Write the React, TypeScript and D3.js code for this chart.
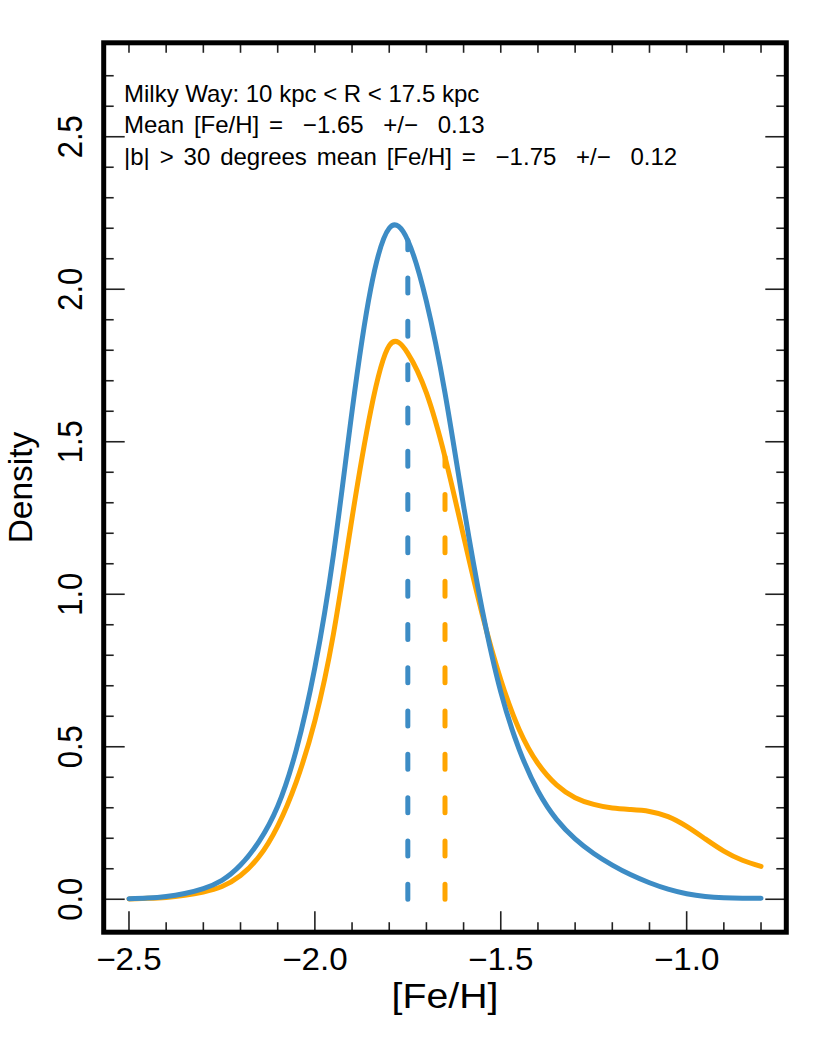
import React, { Component } from 'react';
import * as d3 from 'd3';

// [Fe/H] grid the densities were read at
const fehGrid = [
  -2.5, -2.45, -2.4, -2.35, -2.3, -2.25, -2.2, -2.15, -2.1, -2.05,
  -2.0, -1.95, -1.9, -1.85, -1.8, -1.75, -1.7, -1.65, -1.6, -1.55,
  -1.5, -1.45, -1.4, -1.35, -1.3, -1.25, -1.2, -1.15, -1.1, -1.05,
  -1.0, -0.95, -0.9, -0.85, -0.8,
];

// |b| > 30 degrees sample
const highLatDensity = [
  0.002, 0.004, 0.009, 0.019, 0.035, 0.062, 0.112, 0.19, 0.305, 0.49,
  0.76, 1.13, 1.6, 2.0, 2.2, 2.16, 1.96, 1.66, 1.29, 0.95,
  0.68, 0.49, 0.355, 0.262, 0.198, 0.15, 0.112, 0.08, 0.054, 0.033,
  0.018, 0.009, 0.005, 0.0035, 0.003,
];

// full 10 < R < 17.5 kpc sample
const allDensity = [
  0.001, 0.003, 0.006, 0.013, 0.024, 0.042, 0.078, 0.14, 0.24, 0.385,
  0.585, 0.87, 1.25, 1.6, 1.815, 1.79, 1.66, 1.45, 1.19, 0.935,
  0.72, 0.555, 0.445, 0.375, 0.333, 0.311, 0.299, 0.294, 0.288, 0.271,
  0.239, 0.198, 0.158, 0.128, 0.108,
];

const meanAll = -1.65;
const meanHighLat = -1.75;

const xMajorTicks = [-2.5, -2.0, -1.5, -1.0];
const yMajorTicks = [0, 0.5, 1.0, 1.5, 2.0, 2.5];

const noteLines = [
  'Milky Way: 10 kpc < R < 17.5 kpc',
  'Mean [Fe/H] =  \u22121.65  +/\u2212  0.13',
  '|b| > 30 degrees mean [Fe/H] =  \u22121.75  +/\u2212  0.12',
];

const BLUE = '#3d8cc5';
const ORANGE = '#ffa500';
const FONT = '"Liberation Sans", Arial, Helvetica, sans-serif';

export default class App extends Component {
  svgRef = React.createRef<SVGSVGElement>();

  componentDidMount() {
    this.drawGraph();
  }

  drawGraph() {
    const svg = d3.select(this.svgRef.current);
    svg.selectAll('*').remove();

    const x = d3.scaleLinear().domain([-2.568, -0.732]).range([103.7, 786.3]);
    const y = d3.scaleLinear().domain([-0.108, 2.808]).range([932.2, 42.8]);

    const [x0, x1] = x.range();
    const [y0, y1] = y.range();

    const fmt = (v: number) => d3.format('.1f')(v).replace('-', '\u2212');

    // ticks, all pointing inwards
    const ticks = svg.append('g').attr('stroke', '#222').attr('stroke-width', 1.6);
    const xMinor = d3.range(-25, -7).map(i => i / 10);
    const isXMajor = (v: number) => xMajorTicks.some(t => Math.abs(t - v) < 1e-6);
    xMinor.forEach(v => {
      const len = isXMajor(v) ? 21 : 10;
      ticks.append('line').attr('x1', x(v)).attr('x2', x(v)).attr('y1', y0).attr('y2', y0 - len);
      ticks.append('line').attr('x1', x(v)).attr('x2', x(v)).attr('y1', y1).attr('y2', y1 + 10);
    });
    const yMinor = d3.range(0, 28).map(i => i / 10);
    const isYMajor = (v: number) => yMajorTicks.some(t => Math.abs(t - v) < 1e-6);
    yMinor.forEach(v => {
      const len = isYMajor(v) ? 21 : 10;
      ticks.append('line').attr('x1', x0).attr('x2', x0 + len).attr('y1', y(v)).attr('y2', y(v));
      ticks.append('line').attr('x1', x1).attr('x2', x1 - len).attr('y1', y(v)).attr('y2', y(v));
    });

    // density curves
    const line = (vals: number[]) =>
      d3.line<number>()
        .x((_, i) => x(fehGrid[i]))
        .y(d => y(d))
        .curve(d3.curveNatural)(vals);

    svg.append('path')
      .attr('d', line(allDensity))
      .attr('fill', 'none')
      .attr('stroke', ORANGE)
      .attr('stroke-width', 5)
      .attr('stroke-linecap', 'round')
      .attr('stroke-linejoin', 'round');

    svg.append('path')
      .attr('d', line(highLatDensity))
      .attr('fill', 'none')
      .attr('stroke', BLUE)
      .attr('stroke-width', 5)
      .attr('stroke-linecap', 'round')
      .attr('stroke-linejoin', 'round');

    // mean markers, dashed from zero up to the curve
    const valueAt = (vals: number[], feh: number) =>
      vals[fehGrid.findIndex(g => Math.abs(g - feh) < 1e-6)];

    [
      { m: meanHighLat, vals: highLatDensity, col: BLUE },
      { m: meanAll, vals: allDensity, col: ORANGE },
    ].forEach(d => {
      svg.append('line')
        .attr('x1', x(d.m)).attr('x2', x(d.m))
        .attr('y1', y(0)).attr('y2', y(valueAt(d.vals, d.m)))
        .attr('stroke', d.col)
        .attr('stroke-width', 5)
        .attr('stroke-linecap', 'round')
        .attr('stroke-dasharray', '15 28.3');
    });

    // frame
    svg.append('rect')
      .attr('x', x0).attr('y', y1)
      .attr('width', x1 - x0).attr('height', y0 - y1)
      .attr('fill', 'none')
      .attr('stroke', '#000')
      .attr('stroke-width', 5);

    // tick labels
    const labels = svg.append('g').attr('font-family', FONT).attr('fill', '#000');
    xMajorTicks.forEach(v => {
      labels.append('text')
        .attr('transform', `translate(${x(v)},970) scale(1.07,1)`)
        .attr('text-anchor', 'middle')
        .attr('font-size', 31)
        .text(fmt(v));
    });
    yMajorTicks.forEach(v => {
      labels.append('text')
        .attr('transform', `translate(81.7,${y(v)}) scale(1.14,1) rotate(-90)`)
        .attr('text-anchor', 'middle')
        .attr('font-size', 31)
        .text(fmt(v));
    });

    // axis titles
    labels.append('text')
      .attr('transform', `translate(${(x0 + x1) / 2},1008) scale(1.09,1)`)
      .attr('text-anchor', 'middle')
      .attr('font-size', 36)
      .text('[Fe/H]');
    labels.append('text')
      .attr('transform', `translate(31.7,${(y0 + y1) / 2}) rotate(-90)`)
      .attr('text-anchor', 'middle')
      .attr('font-size', 33.5)
      .text('Density');

    // notes
    noteLines.forEach((t, i) => {
      labels.append('text')
        .attr('x', 124)
        .attr('y', 101.7 + i * 31.7)
        .attr('font-size', 24)
        .attr('word-spacing', i === 0 ? 0 : 3.2)
        .style('white-space', 'pre')
        .text(t);
    });
  }

  render() {
    return (
      <svg
        ref={this.svgRef}
        width={830}
        height={1038}
        style={{ position: 'absolute', left: 0, top: 0, background: '#fff' }}
      />
    );
  }
}
